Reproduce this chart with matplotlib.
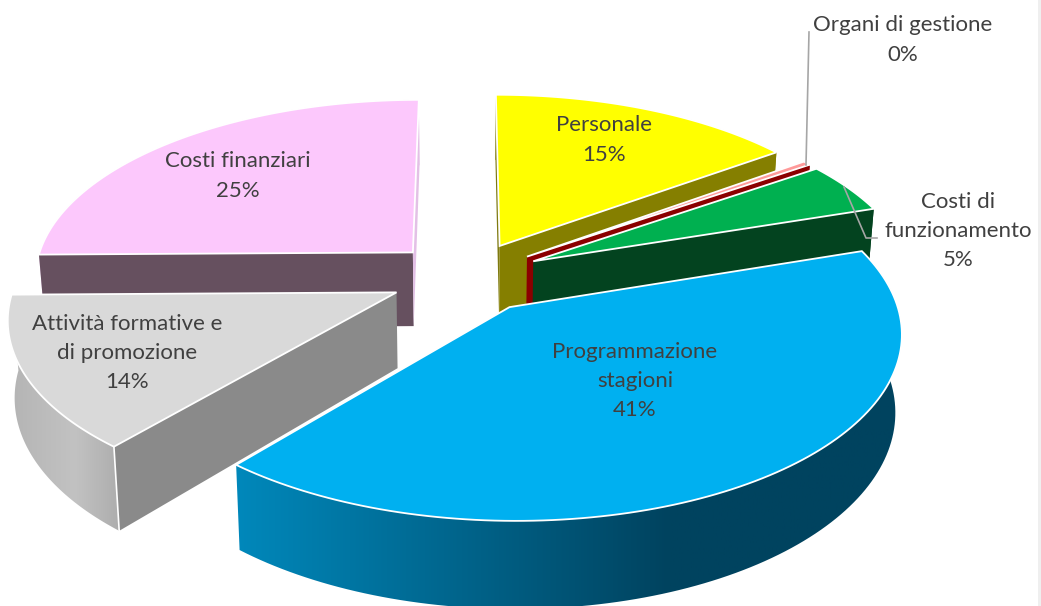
import numpy as np
import matplotlib
matplotlib.use('Agg')
import matplotlib.pyplot as plt
from matplotlib.colors import LinearSegmentedColormap
from matplotlib.patches import Polygon

plt.rcParams['font.family'] = ['Lato', 'DejaVu Sans']

#Slices, clockwise from twelve o'clock
categories = ['Personale', 'Organi di gestione', 'Costi di\nfunzionamento', 'Programmazione\nstagioni',
              'Attività formative e\ndi promozione', 'Costi finanziari']
values = [15, 0.4, 4.6, 41.4, 13.7, 25.3]

#Colours of the top, the two cut faces and the rim
top_colors = ['#ffff00', '#ff9a9a', '#00b050', '#00b0f0', '#d9d9d9', '#fcc8fc']
start_colors = ['#7f7a10', None, None, None, '#8a8a8a', '#66505f']
end_colors = ['#857f00', '#8b0000', '#03431f', None, None, '#e3c0e6']
rim_colors = ['#857f00', '#8b0000', '#03431f', None, None, '#e3c0e6']
rim_stops = {3: [(0, '#0088bb'), (0.65, '#00435f'), (1, '#00435f')],
             4: [(0, '#b4b4b4'), (0.6, '#c2c2c2'), (1, '#adadad')]}
#Drawing order, back to front
order = [5, 0, 1, 2, 4, 3]
label_xy = [(604, 140), (903, 40), (958, 231), (635, 381), (127, 353), (238, 176)]

#Projection of the tilted pie
x0, y0 = 466, 277
sx, sy = 380, 178
persp = 0.128
thick = 75
explode = 0.2


def project(wx, wy):
    w = 1 + persp*wy
    return x0 + sx*wx/w, y0 - sy*wy/w, w


def lower(px, py, w):
    #Foot of a point on the bottom face
    return x0 + (px - x0)*0.985, py + thick/w


fracs = np.array(values)/np.sum(values)
edges = np.concatenate(([0], np.cumsum(fracs)))*2*np.pi

fig = plt.figure(figsize=(10.41, 6.06), dpi=100)
ax = fig.add_axes([0, 0, 1, 1])

for z, i in enumerate(order):
    a, b = edges[i], edges[i + 1]
    mid = (a + b)/2
    ox, oy = explode*np.sin(mid), explode*np.cos(mid)
    t = np.linspace(a, b, 120)
    #Outer arc, apex first
    wx = np.concatenate(([ox], ox + np.sin(t)))
    wy = np.concatenate(([oy], oy + np.cos(t)))
    px, py, w = project(wx, wy)
    fx, fy = lower(px, py, w)

    #Rim
    rim = np.column_stack((np.concatenate((px[1:], fx[1:][::-1])), np.concatenate((py[1:], fy[1:][::-1]))))
    if i in rim_stops:
        patch = Polygon(rim, closed=True, fc='none', ec='none', zorder=z + 1)
        ax.add_patch(patch)
        cmap = LinearSegmentedColormap.from_list('rim', rim_stops[i])
        grad = np.linspace(0, 1, 256).reshape(1, -1)
        im = ax.imshow(grad, cmap=cmap, aspect='auto', zorder=z + 1,
                       extent=(rim[:, 0].min(), rim[:, 0].max(), rim[:, 1].max(), rim[:, 1].min()))
        im.set_clip_path(patch)
    else:
        ax.add_patch(Polygon(rim, closed=True, fc=rim_colors[i], ec='none', zorder=z + 1))

    #The two cut faces
    for k, col in ((1, start_colors[i]), (-1, end_colors[i])):
        if col is None:
            continue
        quad = [(px[0], py[0]), (px[k], py[k]), (fx[k], fy[k]), (fx[0], fy[0])]
        ax.add_patch(Polygon(quad, closed=True, fc=col, ec='none', zorder=z + 1))

    #White seam at the near corner of the grey slice
    if i == 4:
        ax.plot([px[1], fx[1]], [py[1], fy[1]], color='white', lw=1.2, zorder=z + 1)

    #Top face
    ax.add_patch(Polygon(np.column_stack((px, py)), closed=True, fc=top_colors[i], ec='white', lw=1.3,
                         joinstyle='miter', zorder=z + 1))

#Leader lines
ax.plot([809, 806], [32, 165], color='#a6a6a6', lw=1.2, zorder=10)
ax.plot([844, 866, 877], [187, 238, 238], color='#a6a6a6', lw=1.2, zorder=10)

#Labels
for name, v, (lx, ly) in zip(categories, values, label_xy):
    ax.text(lx, ly, f"{name}\n{round(v)}%", ha='center', va='center', fontsize=16, color='#404040',
            linespacing=1.58, zorder=11)

ax.axvspan(1038, 1041, color='#efefef', lw=0, zorder=0)
ax.set_xlim(0, 1041)
ax.set_ylim(606, 0)
ax.axis('off')

plt.savefig('out.png', dpi=100)
